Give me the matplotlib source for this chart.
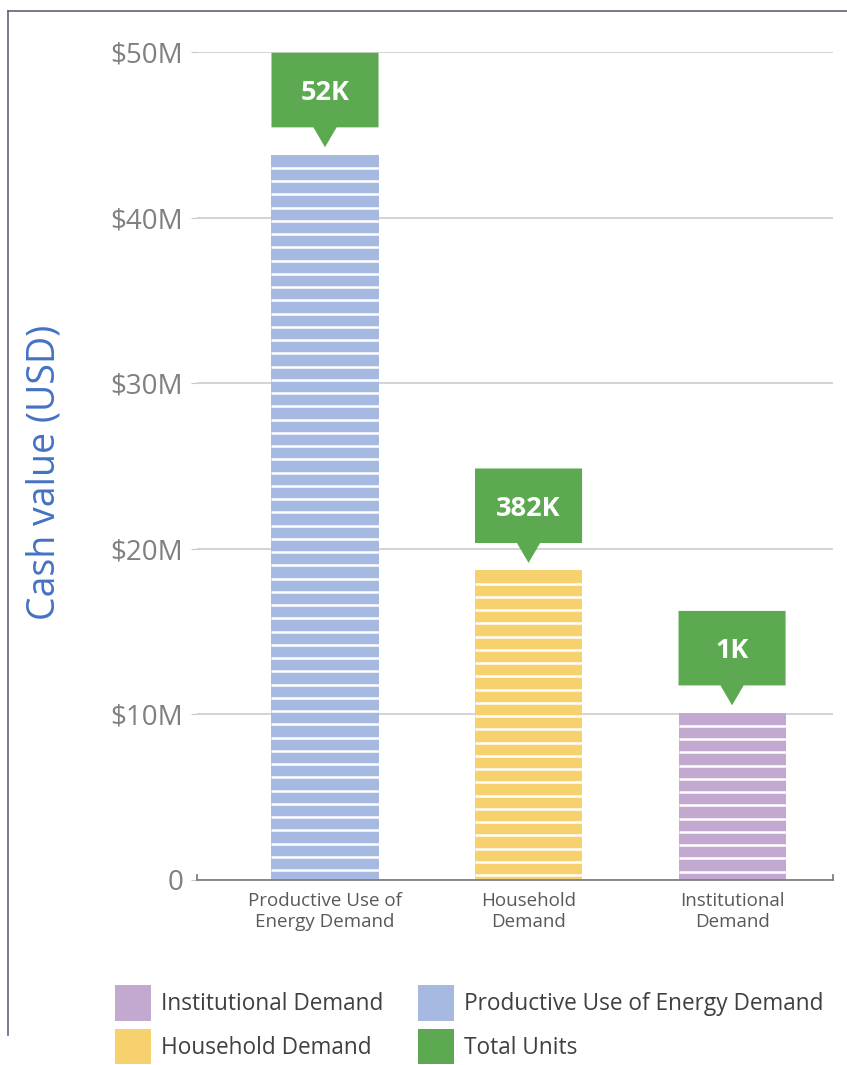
import numpy as np
import matplotlib
matplotlib.use("Agg")
import matplotlib.pyplot as plt
from matplotlib.patches import Patch, Polygon
from matplotlib.lines import Line2D

plt.rcParams['font.family'] = ['Open Sans', 'DejaVu Sans']

# datos
categorias = ["Productive Use of\nEnergy Demand", "Household\nDemand", "Institutional\nDemand"]
valores_musd = [43.8, 18.7, 10.1]
unidades = ["52K", "382K", "1K"]
colores = ["#A5B9E1", "#F8D16F", "#C3A9CF"]
verde = "#5CA952"
y_ticks = [0, 10, 20, 30, 40, 50]
y_tick_labels = ["0", "$10M", "$20M", "$30M", "$40M", "$50M"]
leyenda = ["Institutional Demand", "Household Demand", "Productive Use of Energy Demand", "Total Units"]
leyenda_colores = ["#C3A9CF", "#F8D16F", "#A5B9E1", verde]

W, H = 847, 1065
fig = plt.figure(figsize=(W / 100, H / 100), dpi=100)
ax = fig.add_axes([197 / W, 1 - 880 / H, (833 - 197) / W, (880 - 52) / H])

x = np.arange(len(categorias))
ancho = 0.526
ax.bar(x, valores_musd, width=ancho, color=colores, zorder=2)

# rayas blancas horizontales en las barras
paso = 0.8
for xi, v in zip(x, valores_musd):
    ys = np.arange(v - paso, 0, -paso)
    ax.hlines(ys, xi - ancho / 2, xi + ancho / 2, colors="white", lw=1.8, zorder=3)

# globos verdes con las unidades
for xi, v, u in zip(x, valores_musd, unidades):
    punta = v + 0.45
    base = v + 1.65
    tope = v + 6.15
    hw = ancho / 2
    tw = 0.057
    pts = [(xi - hw, tope), (xi + hw, tope), (xi + hw, base), (xi + tw, base),
           (xi, punta), (xi - tw, base), (xi - hw, base)]
    ax.add_patch(Polygon(pts, closed=True, fc=verde, ec="none", zorder=4))
    ax.text(xi, v + 3.7, u, ha="center", va="center", color="white",
            fontsize=19.5, fontweight="bold", zorder=5)

ax.set_xlim(-0.629, 2.496)
ax.set_ylim(0, 50)
ax.set_yticks(y_ticks)
ax.set_yticklabels(y_tick_labels)
ax.yaxis.grid(True, color="#C8C8C8", lw=1.1, zorder=0)
ax.set_axisbelow(True)
ax.tick_params(axis="y", length=4, color="#C8C8C8", pad=6, labelsize=20, labelcolor="#808080")
ax.set_xticks(x)
ax.set_xticklabels(categorias, fontsize=13.5, color="#595959", linespacing=1.15)
ax.tick_params(axis="x", length=0, pad=9)
for s in ["left", "right", "top"]:
    ax.spines[s].set_visible(False)
ax.spines["bottom"].set_color("#808080")
ax.spines["bottom"].set_linewidth(1.3)
ax.spines["bottom"].set_zorder(6)
# pequeñas marcas en los extremos del eje x
for xe in [0, 1]:
    ax.add_line(Line2D([xe, xe], [0, 0.006], color="#808080", lw=1.3,
                       transform=ax.transAxes, clip_on=False))

fig.text(45 / W, 1 - 472 / H, "Cash value (USD)", rotation=90, ha="center", va="center",
         fontsize=27, color="#4472C4")

handles = [Patch(fc=c, ec="none") for c in leyenda_colores]
fig.legend(handles, leyenda, ncol=2, loc="upper left", bbox_to_anchor=(115 / W, 1 - 985 / H),
           frameon=False, fontsize=16.3, handlelength=1.59, handleheight=2.05,
           handletextpad=0.44, columnspacing=1.55, labelspacing=0.35,
           borderpad=0, borderaxespad=0, labelcolor="#404040")

# marco de la imagen
fig.add_artist(Line2D([8 / W, 8 / W], [1 - 1035 / H, 1 - 11 / H], color="#5a6478", lw=1.2))
fig.add_artist(Line2D([8 / W, 1], [1 - 11 / H, 1 - 11 / H], color="#5a6478", lw=1.2))

fig.savefig("out.png", dpi=100, facecolor="white")
